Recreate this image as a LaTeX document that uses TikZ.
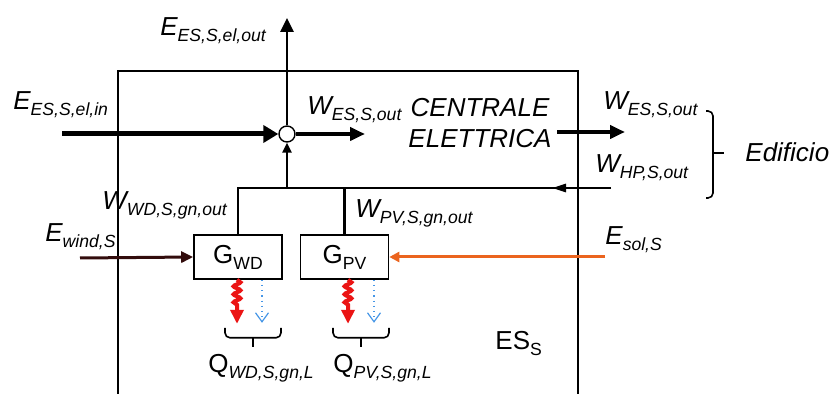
\documentclass[tikz,border=0pt]{standalone}
\usepackage{fontspec}
\setmainfont{Liberation Sans}
\usetikzlibrary{arrows.meta,positioning,calc,
                decorations.pathreplacing,decorations.pathmorphing}
\definecolor{cWind}{RGB}{50,12,12}
\definecolor{cSol}{RGB}{235,100,30}
\definecolor{cLoss}{RGB}{235,20,20}
\definecolor{cAux}{RGB}{70,150,230}
\newcommand{\sbs}[1]{\raisebox{-3pt}{\fontsize{8.8}{10}\selectfont\itshape #1}}
\newcommand{\sbu}[1]{\raisebox{-3pt}{\fontsize{8.8}{10}\selectfont\upshape #1}}
\tikzset{
  lbl/.style={inner sep=0pt,anchor=base west,
              font=\fontsize{13}{15}\selectfont\itshape},
  uplbl/.style={lbl,font=\fontsize{13}{15}\selectfont},
  genbox/.style={rectangle,draw=black,line width=0.8pt,minimum width=44pt,
                 minimum height=22pt,inner sep=0pt,
                 font=\fontsize{13}{15}\selectfont},
  junc/.style={circle,draw=black,line width=0.7pt,fill=white,
               minimum size=8pt,inner sep=0pt},
  bigarr/.style={-{Triangle[length=7.5pt,width=8.5pt]},line width=2.5pt},
  medarr/.style={-{Triangle[length=7.5pt,width=6.5pt]},line width=2pt},
  toparr/.style={-{Triangle[length=7pt,width=6.5pt]},line width=1.4pt},
  inarr/.style={-{Triangle[length=5pt,width=4.5pt]},line width=1.3pt},
  hparr/.style={-{Triangle[length=7pt,width=4pt]},line width=1.4pt},
  busline/.style={line width=1.4pt},
  windarr/.style={-{Triangle[length=6pt,width=5.5pt]},line width=1.5pt,color=cWind},
  solarr/.style={-{Triangle[length=5pt,width=5pt]},line width=1.5pt,color=cSol},
  lossarr/.style={color=cLoss,line width=2pt,decorate,
                  decoration={snake,amplitude=1.7pt,segment length=4pt,
                              post length=8pt},
                  -{Triangle[length=7pt,width=6.5pt]}},
  auxarr/.style={color=cAux,line width=0.6pt,dotted,
                 -{Straight Barb[length=4.5pt,width=6.5pt]}},
  brc/.style={line width=0.8pt,rounded corners=2.5pt}
}

\begin{document}
\begin{tikzpicture}[x=0.5pt,y=-0.5pt]
  \useasboundingbox (0,0) rectangle (833,394);

  % system boundary ES_S
  \draw[line width=0.6pt] (118,394) -- (118,71) -- (578,71) -- (578,394);

  \node[junc] (jn) at (287,134) {};
  \node[genbox] (gwd) at (238,257) {G\sbu{WD}};
  \node[genbox] (gpv) at (344.5,257) {G\sbu{PV}};

  \coordinate (elout) at (287,18);
  \coordinate (elin) at (62,134);
  \coordinate (wint) at (365,134);
  \coordinate (wext0) at (557,132);
  \coordinate (wext1) at (625,132);
  \coordinate (hp) at (611,188);
  \coordinate (hptip) at (552,188);
  \coordinate (wind) at (80,258);
  \coordinate (sol) at (605,257);

  % electric flows
  \draw[toparr] (jn.north) -- (elout);
  \draw[bigarr] (elin) -- (jn.west);
  \draw[medarr] (jn.east) -- (wint);
  \draw[medarr] (wext0) -- (wext1);

  % bus
  \draw[busline] (gwd.north) -- (gwd.north |- hp) -- (hp);
  \draw[busline] (gpv.north) -- (gpv.north |- hp);
  \draw[hparr] (hp) -- (hptip);
  \draw[inarr] (jn |- hp) -- (jn.south);

  % sources
  \draw[windarr] (wind) -- (gwd.west);
  \draw[solarr] (sol) -- (gpv.east);

  % losses
  \draw[lossarr] ($(gwd.south)+(-1,0)$) -- ++(0,44);
  \draw[auxarr] ($(gwd.south)+(24,0)$) -- ++(0,43);
  \draw[lossarr] ($(gpv.south)+(3.5,0)$) -- ++(0,44);
  \draw[auxarr] ($(gpv.south)+(29.5,0)$) -- ++(0,43);

  % braces
  \draw[brc] ($(gwd.south)+(-13,48)$) -- ++(0,10) -- ++(56,0) -- ++(0,-10);
  \draw[brc] ($(gwd.south)+(15,58)$) -- ++(0,9);
  \draw[brc] ($(gpv.south)+(-11.5,48)$) -- ++(0,10) -- ++(56,0) -- ++(0,-10);
  \draw[brc] ($(gpv.south)+(16.5,58)$) -- ++(0,9);
  \draw[brc] (706,111) -- (713,111) -- (713,198) -- (706,198);
  \draw[brc] (713,153) -- (724,153);

  % labels
  \node[lbl] (lelout) at (160,36) {E\sbs{ES,S,el,out}};
  \node[lbl] (lelin) at (13,110) {E\sbs{ES,S,el,in}};
  \node[lbl] (lwint) at (307,115) {W\sbs{ES,S,out}};
  \node[inner sep=0pt,align=center,
        font=\fontsize{13}{15.5}\selectfont\itshape] (lce) at (480,123.5)
      {CENTRALE\\ELETTRICA};
  \node[lbl] (lwext) at (603,110) {W\sbs{ES,S,out}};
  \node[lbl] (lhp) at (595,173) {W\sbs{HP,S,out}};
  \node[lbl] (ledif) at (745,162) {Edificio};
  \node[lbl] (lwd) at (102,210) {W\sbs{WD,S,gn,out}};
  \node[lbl] (lpv) at (355,218) {W\sbs{PV,S,gn,out}};
  \node[lbl] (lwind) at (45,242) {E\sbs{wind,S}};
  \node[lbl] (lsol) at (605,245) {E\sbs{sol,S}};
  \node[uplbl] (lqwd) at (208,372) {Q\sbs{WD,S,gn,L}};
  \node[uplbl] (lqpv) at (333,372) {Q\sbs{PV,S,gn,L}};
  \node[uplbl] (less) at (495,350) {ES\sbu{S}};

\end{tikzpicture}
\end{document}
